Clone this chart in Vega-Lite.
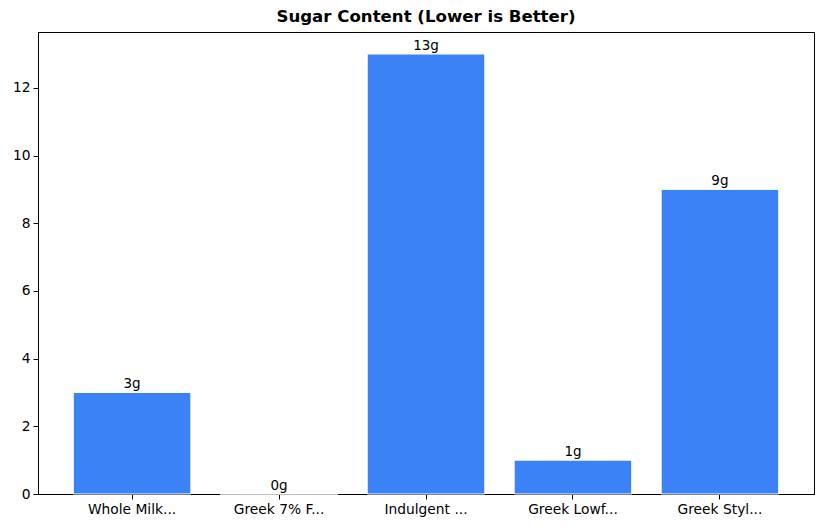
{
  "$schema": "https://vega.github.io/schema/vega-lite/v6.json",
  "width": 776,
  "height": 462,
  "autosize": "none",
  "padding": {"left": 38, "top": 32, "right": 8, "bottom": 34},
  "background": "white",
  "title": {
    "text": "Sugar Content (Lower is Better)",
    "font": "DejaVu Sans",
    "fontSize": 16.6,
    "fontWeight": "bold",
    "color": "black",
    "offset": 6
  },
  "data": {
    "values": [
      {"product": "Whole Milk...", "sugar": 3, "label": "3g"},
      {"product": "Greek 7% F...", "sugar": 0, "label": "0g"},
      {"product": "Indulgent ...", "sugar": 13, "label": "13g"},
      {"product": "Greek Lowf...", "sugar": 1, "label": "1g"},
      {"product": "Greek Styl...", "sugar": 9, "label": "9g"}
    ]
  },
  "encoding": {
    "x": {
      "field": "product",
      "type": "nominal",
      "sort": null,
      "title": null,
      "scale": {"paddingInner": 0.2, "paddingOuter": 0.24},
      "axis": {"labelAngle": 0}
    },
    "y": {
      "field": "sugar",
      "type": "quantitative",
      "title": null,
      "scale": {"domain": [0, 13.65], "nice": false},
      "axis": {"values": [0, 2, 4, 6, 8, 10, 12], "grid": false}
    }
  },
  "layer": [
    {
      "mark": {"type": "bar", "color": "#3b82f6", "stroke": "white", "strokeWidth": 1}
    },
    {
      "mark": {"type": "text", "baseline": "bottom", "dy": -1, "font": "DejaVu Sans", "fontSize": 13.5, "color": "black"},
      "encoding": {"text": {"field": "label"}}
    }
  ],
  "config": {
    "view": {"stroke": "black", "strokeWidth": 1},
    "axis": {
      "domainColor": "black",
      "tickColor": "black",
      "tickSize": 5,
      "labelColor": "black",
      "labelFont": "DejaVu Sans",
      "labelFontSize": 13.8,
      "labelPadding": 3
    }
  }
}
